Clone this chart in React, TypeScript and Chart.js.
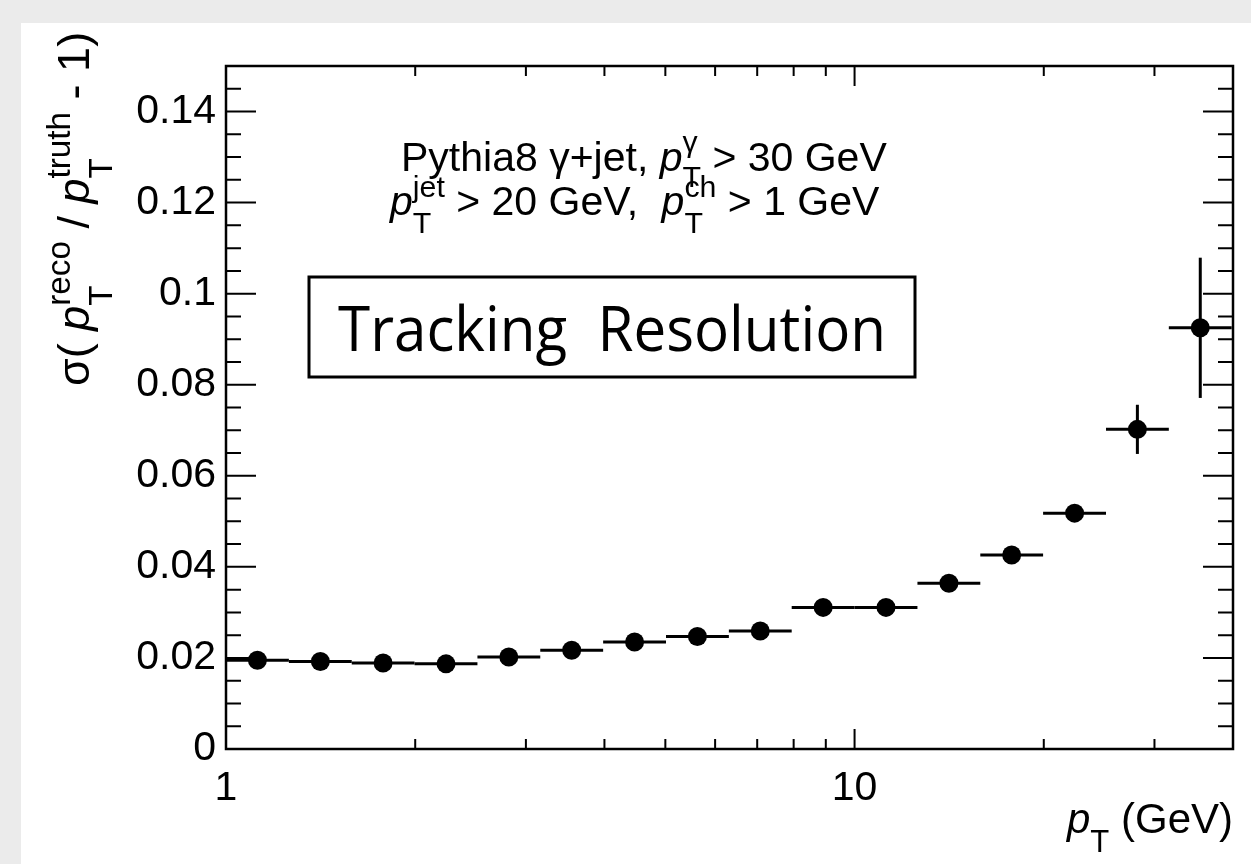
import React, { useEffect, useRef } from "react";
import { Chart, registerables } from "chart.js";

Chart.register(...registerables);

// ---- data ----
const binCenters = [1.122, 1.413, 1.778, 2.239, 2.818, 3.548, 4.467, 5.623, 7.079, 8.913, 11.22, 14.13, 17.78, 22.39, 28.18, 35.48];
const binLow = [1, 1.259, 1.585, 1.995, 2.512, 3.162, 3.981, 5.012, 6.31, 7.943, 10, 12.59, 15.85, 19.95, 25.12, 31.62];
const binHigh = [1.259, 1.585, 1.995, 2.512, 3.162, 3.981, 5.012, 6.31, 7.943, 10, 12.59, 15.85, 19.95, 25.12, 31.62, 39.81];
const resolution = [0.0195, 0.0192, 0.0189, 0.0187, 0.0202, 0.0217, 0.0235, 0.0247, 0.0259, 0.0311, 0.0311, 0.0364, 0.0426, 0.0518, 0.0702, 0.0925];
const resolutionErr = [0.0003, 0.0003, 0.0003, 0.0003, 0.0003, 0.0003, 0.0003, 0.0003, 0.0003, 0.0004, 0.0004, 0.0005, 0.0006, 0.0012, 0.0054, 0.0154];

// ---- axes ----
const xTickValues = [1, 10];
const xTickLabels = ["1", "10"];
const xMajorMarks = [10];
const xMinorMarks = [2, 3, 4, 5, 6, 7, 8, 9, 20, 30];
const yTickValues = [0, 0.02, 0.04, 0.06, 0.08, 0.1, 0.12, 0.14];
const yTickLabels = ["0", "0.02", "0.04", "0.06", "0.08", "0.1", "0.12", "0.14"];
const yMinorMarks = [0.005, 0.01, 0.015, 0.025, 0.03, 0.035, 0.045, 0.05, 0.055, 0.065, 0.07, 0.075, 0.085, 0.09, 0.095, 0.105, 0.11, 0.115, 0.125, 0.13, 0.135, 0.145];

const FAMILY = '"Liberation Sans", Arial, Helvetica, sans-serif';

type Tok = { t?: string; it?: boolean; sub?: string; sup?: string; gap?: number };

function fontStr(size: number, it?: boolean) {
  return `${it ? "italic " : ""}${size}px ${FAMILY}`;
}

const SCR = 0.74;

function tokWidth(ctx: CanvasRenderingContext2D, tok: Tok, size: number) {
  const s2 = size * SCR;
  if (tok.gap !== undefined) return tok.gap;
  if (tok.t !== undefined) {
    ctx.font = fontStr(size, tok.it);
    return ctx.measureText(tok.t).width;
  }
  ctx.font = fontStr(s2);
  const a = tok.sub ? ctx.measureText(tok.sub).width : 0;
  const b = tok.sup ? ctx.measureText(tok.sup).width : 0;
  return Math.max(a, b);
}

function drawRich(
  ctx: CanvasRenderingContext2D,
  toks: Tok[],
  x: number,
  y: number,
  size: number,
  align: "left" | "right" | "center",
  subDrop = 0.45,
  supRaise = 0.47
) {
  const widths = toks.map((t) => tokWidth(ctx, t, size));
  const total = widths.reduce((a, b) => a + b, 0);
  let cx = align === "left" ? x : align === "right" ? x - total : x - total / 2;
  ctx.textAlign = "left";
  ctx.textBaseline = "alphabetic";
  ctx.fillStyle = "#000";
  const s2 = size * SCR;
  toks.forEach((tok, i) => {
    if (tok.gap !== undefined) {
      // spacing only
    } else if (tok.t !== undefined) {
      ctx.font = fontStr(size, tok.it);
      ctx.fillText(tok.t, cx, y);
    } else {
      ctx.font = fontStr(s2);
      if (tok.sub) ctx.fillText(tok.sub, cx, y + size * subDrop);
      if (tok.sup) ctx.fillText(tok.sup, cx, y - size * supRaise);
    }
    cx += widths[i];
  });
}

const line1: Tok[] = [{ t: "Pythia8 γ+jet, " }, { t: "p", it: true }, { sub: "T", sup: "γ" }, { t: " > 30 GeV" }];
const line2: Tok[] = [{ t: "p", it: true }, { sub: "T", sup: "jet" }, { t: " > 20 GeV, " }, { gap: 12 }, { t: "p", it: true }, { sub: "T", sup: "ch" }, { t: " > 1 GeV" }];
const yTitle: Tok[] = [{ t: "σ( " }, { t: "p", it: true }, { sub: "T", sup: "reco" }, { t: " / " }, { t: "p", it: true }, { sub: "T", sup: "truth" }, { t: " - 1)" }];
const xTitle: Tok[] = [{ t: "p", it: true }, { sub: "T" }, { t: " (GeV)" }];

const decorPlugin = {
  id: "decor",
  beforeDatasetsDraw(chart: any) {
    const ctx: CanvasRenderingContext2D = chart.ctx;
    const xs = chart.scales.x;
    const ys = chart.scales.y;
    ctx.save();
    ctx.strokeStyle = "#000";
    ctx.lineWidth = 3;
    ctx.lineCap = "butt";
    for (let i = 0; i < binCenters.length; i++) {
      const py = ys.getPixelForValue(resolution[i]);
      const x0 = xs.getPixelForValue(binLow[i]);
      const x1 = xs.getPixelForValue(binHigh[i]);
      const px = xs.getPixelForValue(binCenters[i]);
      ctx.beginPath();
      ctx.moveTo(x0, py);
      ctx.lineTo(x1, py);
      ctx.stroke();
      ctx.beginPath();
      ctx.moveTo(px, ys.getPixelForValue(resolution[i] - resolutionErr[i]));
      ctx.lineTo(px, ys.getPixelForValue(resolution[i] + resolutionErr[i]));
      ctx.stroke();
    }
    ctx.restore();
  },
  afterDraw(chart: any) {
    const ctx: CanvasRenderingContext2D = chart.ctx;
    const a = chart.chartArea;
    const xs = chart.scales.x;
    const ys = chart.scales.y;
    ctx.save();
    ctx.strokeStyle = "#000";
    ctx.lineWidth = 2;
    // ticks
    const vt = (v: number, len: number) => {
      const px = xs.getPixelForValue(v);
      ctx.beginPath();
      ctx.moveTo(px, a.bottom);
      ctx.lineTo(px, a.bottom - len);
      ctx.moveTo(px, a.top);
      ctx.lineTo(px, a.top + len);
      ctx.stroke();
    };
    xMinorMarks.forEach((v) => vt(v, 10));
    xMajorMarks.forEach((v) => vt(v, 20));
    const ht = (v: number, len: number) => {
      const py = ys.getPixelForValue(v);
      ctx.beginPath();
      ctx.moveTo(a.left, py);
      ctx.lineTo(a.left + len, py);
      ctx.moveTo(a.right, py);
      ctx.lineTo(a.right - len, py);
      ctx.stroke();
    };
    yMinorMarks.forEach((v) => ht(v, 15));
    yTickValues.forEach((v) => ht(v, 30));
    // frame
    ctx.lineWidth = 2.5;
    ctx.strokeRect(a.left, a.top, a.right - a.left, a.bottom - a.top);

    // annotations
    drawRich(ctx, line1, a.left + 175, a.top + 105, 41, "left", 0.4, 0.47);
    drawRich(ctx, line2, a.left + 164, a.top + 149, 41, "left", 0.45, 0.44);

    // box
    ctx.lineWidth = 3;
    const bx = a.left + 83, by = a.top + 211, bw = 606, bh = 100;
    ctx.strokeRect(bx, by, bw, bh);
    ctx.font = '62px "Open Sans", sans-serif';
    const label = "Tracking  Resolution";
    const w = ctx.measureText(label).width;
    ctx.save();
    ctx.translate(bx + bw / 2, a.top + 285);
    ctx.scale(548 / w, 1);
    ctx.textAlign = "center";
    ctx.textBaseline = "alphabetic";
    ctx.fillStyle = "#000";
    ctx.fillText(label, 0, 0);
    ctx.restore();

    // axis titles
    drawRich(ctx, xTitle, a.right, a.bottom + 84, 42, "right");
    ctx.save();
    ctx.translate(a.left - 137, a.top + 143);
    ctx.rotate(-Math.PI / 2);
    drawRich(ctx, yTitle, 0, 0, 45, "center", 0.52, 0.42);
    ctx.restore();
    ctx.restore();
  },
};

export default function App() {
  const ref = useRef<HTMLCanvasElement | null>(null);
  useEffect(() => {
    document.body.style.margin = "0";
    document.body.style.background = "#ebebeb";
    if (!ref.current) return;
    const chart = new Chart(ref.current, {
      type: "scatter",
      data: {
        datasets: [
          {
            data: binCenters.map((x, i) => ({ x, y: resolution[i] })),
            pointRadius: 9.5,
            pointHoverRadius: 9.5,
            backgroundColor: "#000",
            borderColor: "#000",
            borderWidth: 0,
            showLine: false,
          },
        ],
      },
      options: {
        animation: false,
        responsive: false,
        devicePixelRatio: 1,
        events: [],
        layout: { padding: { top: 43, right: 18, left: 0, bottom: 0 } },
        plugins: { legend: { display: false }, tooltip: { enabled: false } },
        scales: {
          x: {
            type: "logarithmic",
            min: 1,
            max: 40,
            position: "bottom",
            grid: { display: false, drawTicks: false },
            border: { display: false },
            ticks: {
              color: "#000",
              font: { family: FAMILY, size: 41 },
              padding: 15,
              autoSkip: false,
              maxRotation: 0,
              callback: (v: any) => {
                const i = xTickValues.indexOf(Number(v));
                return i >= 0 ? xTickLabels[i] : "";
              },
            },
            afterBuildTicks: (s: any) => {
              s.ticks = xTickValues.map((v) => ({ value: v }));
            },
            afterFit: (s: any) => {
              s.height = 115;
            },
          },
          y: {
            type: "linear",
            min: 0,
            max: 0.15,
            grid: { display: false, drawTicks: false },
            border: { display: false },
            ticks: {
              color: "#000",
              font: { family: FAMILY, size: 41 },
              padding: 10,
              callback: (v: any) => {
                const i = yTickValues.findIndex((t) => Math.abs(t - Number(v)) < 1e-9);
                return i >= 0 ? yTickLabels[i] : "";
              },
            },
            afterBuildTicks: (s: any) => {
              s.ticks = yTickValues.map((v) => ({ value: v }));
            },
            afterFit: (s: any) => {
              s.width = 205;
            },
          },
        },
      },
      plugins: [decorPlugin],
    });
    return () => chart.destroy();
  }, []);
  return (
    <div style={{ position: "relative", width: 1251, height: 864, background: "#ebebeb", overflow: "hidden" }}>
      <canvas
        ref={ref}
        width={1230}
        height={841}
        style={{ position: "absolute", left: 21, top: 23, width: 1230, height: 841, background: "#fff" }}
      />
    </div>
  );
}
